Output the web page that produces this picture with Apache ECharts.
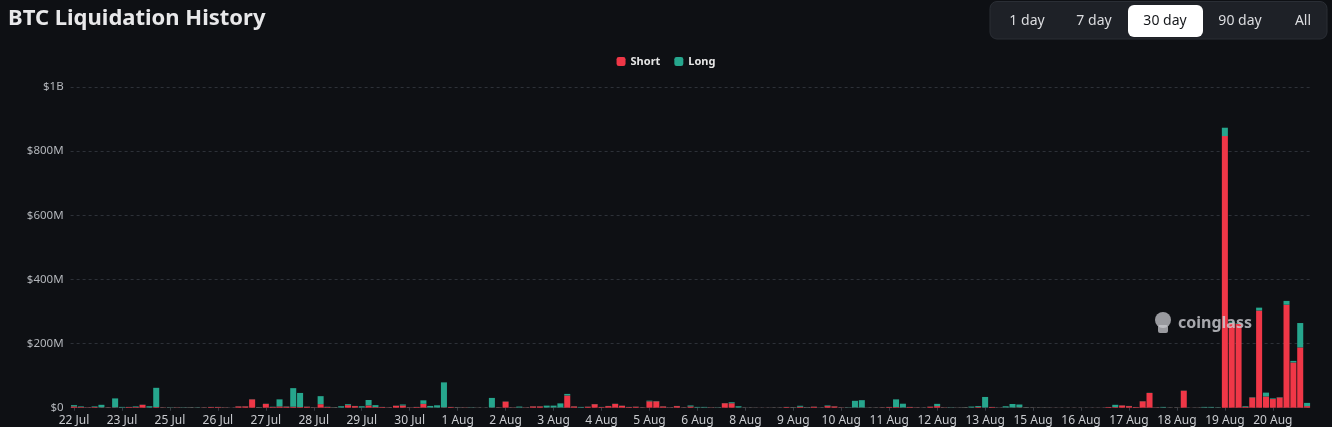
<!DOCTYPE html>
<html>
<head>
<meta charset="utf-8">
<script src="https://cdn.jsdelivr.net/npm/echarts@6/dist/echarts.min.js"></script>
<style>
html,body{margin:0;padding:0;background:#0e1014;}
#c{width:1332px;height:427px;}
</style>
</head>
<body>
<div id="c"></div>
<script>
// Tick labels shown every 7th bar (4-hour bars)
var tickLabels = ['22 Jul','23 Jul','25 Jul','26 Jul','27 Jul','28 Jul','29 Jul','30 Jul','1 Aug','2 Aug','3 Aug','4 Aug','5 Aug','6 Aug','8 Aug','9 Aug','10 Aug','11 Aug','12 Aug','13 Aug','15 Aug','16 Aug','17 Aug','18 Aug','19 Aug','20 Aug'];
var yTickLabels = {0:'$0',200:'$200M',400:'$400M',600:'$600M',800:'$800M',1000:'$1B'};

// Values in millions USD
var shortVals = [
4,2,1,2,1,1,1,0.5,2,2,
9,0.5,2,1,0.5,1,0.5,1,0.5,1,
2,2,1,0.3,4,4,26,1,12,2,
4,3,3,2,3,1,11,2,1,0.5,
8,5,0.5,7,2,2,1,6,7,1,
2,12,0.5,0.5,1,2,1,1,0.5,0.5,
0.3,0.5,1,19,1,0.5,1,4,4,0.5,
0.5,0.5,38,4,0.5,3,11,2,5,12,
6,2,3,1,20,20,4,1,5,1,
4,0.5,0.5,1,0.5,14,14,0.5,0.5,0.5,
0.3,0.3,0.5,0.5,2,1,3,1,3,0.5,
5,4,1,0.5,0.5,0.5,0.5,0.5,1,2,
2,0.5,2,1,0.5,3,5,1,0.5,0.5,
1,0.5,2,0.5,2,0.5,0.5,0.5,1,1,
0.5,0.5,0.5,0.3,0.3,0.3,0.3,0.3,0.3,0.3,
0.3,2,2,7,5,2,20,46,1,0.5,
0.5,0.5,53,0.3,0.5,0.5,0.5,0.5,847,265,
262,3,32,303,35,27,32,321,141,188,
5
];
var longVals = [
4,2,0.5,2,8,0.5,28,2,0.5,2,
0.5,4,60,0.5,1,0.5,1,1,1,0.5,
0.5,0.5,0.5,0.2,0.5,0.5,0.5,1,0.5,1,
22,1,58,44,0.5,0.5,25,1,1,4,
3,0.5,4,17,6,0.5,0.5,0.5,3,0.5,
0.5,11,5,7,78,0.5,1,0.5,1,0.5,
0.2,30,0.5,0.5,0.5,3,0.5,0.5,0.5,6,
6,13,5,0.5,2,0.5,0.5,0.5,0.5,0.5,
0.5,0.5,0.5,0.5,2,1,0.5,0.5,0.5,0.5,
3,2,2,0.5,1,0.5,3,4,0.5,0.5,
0.2,0.2,0.5,0.5,0.5,1,3,1,0.5,0.5,
2,0.5,0.5,1,21,23,0.5,0.5,0.5,0.5,
24,12,0.5,0.5,0.5,0.5,7,0.5,1,0.5,
1,3,3,33,0.5,0.5,4,11,9,1,
0.5,0.5,0.5,0.2,0.2,0.2,0.2,0.2,0.2,0.2,
0.2,0.3,7,0.5,0.5,0.3,0.5,0.5,0.5,2,
0.5,0.5,0.5,0.2,0.5,2,2,1,26,3,
2,2,1,9,12,2,1,12,5,76,
10
];
var categories = shortVals.map(function(_, i){ return 'b' + i; });

var chart = echarts.init(document.getElementById('c'), null, {renderer:'canvas'});
var RED = '#ef3747', TEAL = '#26a68d';
var option = {
  backgroundColor: '#0e1014',
  animation: false,
  title: {
    text: 'BTC Liquidation History',
    left: 3, top: 3,
    textStyle: {color:'#e8e8ea', fontSize:22, fontWeight:'bold', fontFamily:'Noto Sans'}
  },
  legend: {
    data: ['Short','Long'],
    top: 51, left: 'center',
    itemWidth: 9, itemHeight: 9, itemGap: 14,
    icon: 'roundRect',
    textStyle: {color:'#e6e6e6', fontSize:11, fontWeight:'bold', fontFamily:'Noto Sans'}
  },
  grid: {left: 70.6, right: 21.5, top: 87, bottom: 19.3, containLabel:false},
  xAxis: {
    type: 'category',
    data: categories,
    axisLine: {show:false},
    axisTick: {show:true, alignWithLabel:true, interval:6, length:3, lineStyle:{color:'#3a3e46'}},
    axisLabel: {
      interval: 6, color:'#c9cbcf', fontSize:12, fontFamily:'Noto Sans', margin:7,
      formatter: function(v, idx){ return tickLabels[Math.round(idx/7)] || ''; }
    }
  },
  yAxis: {
    type: 'value', min: 0, max: 1000, interval: 200,
    axisLine:{show:false}, axisTick:{show:false},
    axisLabel: {color:'#b3b6bb', fontSize:11.5, fontFamily:'Noto Sans', margin:7,
      formatter: function(v){ return yTickLabels[v]; }},
    splitLine: {lineStyle:{color:'#2d3138', type:[3,3], width:1}}
  },
  series: [
    {name:'Short', type:'bar', stack:'liq', data: shortVals, barCategoryGap:'12%',
     itemStyle:{color:RED}},
    {name:'Long', type:'bar', stack:'liq', data: longVals, barCategoryGap:'12%',
     itemStyle:{color:TEAL}}
  ],
  graphic: [
    {type:'rect', shape:{x:990, y:1.5, width:337, height:37.5, r:7}, style:{fill:'#1e2127', stroke:'#2a2e35', lineWidth:1}, z:10},
    {type:'rect', shape:{x:1128, y:5, width:75, height:32, r:6}, style:{fill:'#ffffff'}, z:11},
    {type:'text', x:1027, y:21, style:{text:'1 day', fill:'#dcdde0', font:'14px "Noto Sans"', textAlign:'center', textVerticalAlign:'middle'}, z:12},
    {type:'text', x:1094, y:21, style:{text:'7 day', fill:'#dcdde0', font:'14px "Noto Sans"', textAlign:'center', textVerticalAlign:'middle'}, z:12},
    {type:'text', x:1165, y:21, style:{text:'30 day', fill:'#15171b', font:'14px "Noto Sans"', textAlign:'center', textVerticalAlign:'middle'}, z:12},
    {type:'text', x:1240, y:21, style:{text:'90 day', fill:'#dcdde0', font:'14px "Noto Sans"', textAlign:'center', textVerticalAlign:'middle'}, z:12},
    {type:'text', x:1303, y:21, style:{text:'All', fill:'#dcdde0', font:'14px "Noto Sans"', textAlign:'center', textVerticalAlign:'middle'}, z:12},
    {type:'circle', shape:{cx:1163, cy:320, r:8}, style:{fill:'rgba(200,200,205,0.75)'}, z:20},
    {type:'rect', shape:{x:1158, y:325, width:10, height:8, r:2}, style:{fill:'rgba(200,200,205,0.75)'}, z:20},
    {type:'text', x:1178, y:323, style:{text:'coinglass', fill:'rgba(205,205,210,0.8)', font:'bold 16px "Noto Sans"', textVerticalAlign:'middle'}, z:20}
  ]
};
chart.setOption(option);
</script>
</body>
</html>
